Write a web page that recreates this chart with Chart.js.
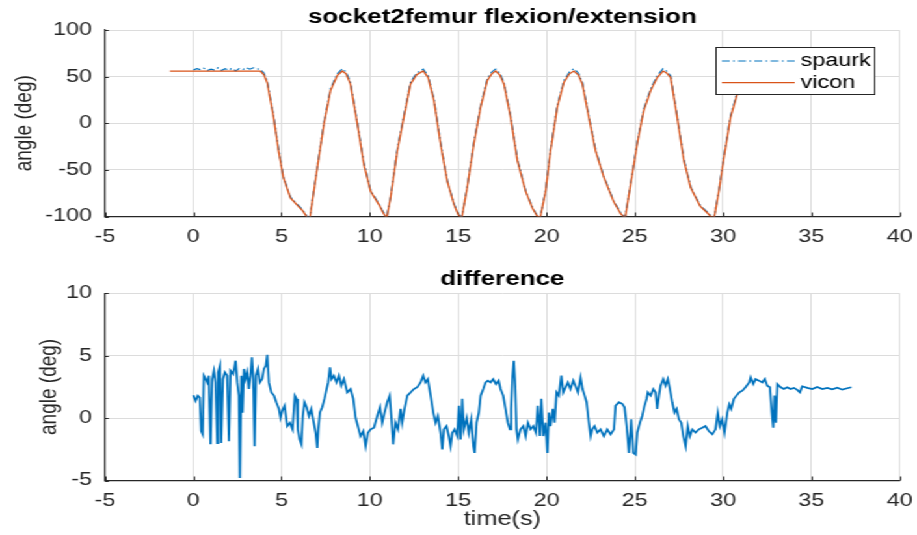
<!DOCTYPE html>
<html>
<head>
<meta charset="utf-8">
<script src="https://cdn.jsdelivr.net/npm/chart.js@4.4.0/dist/chart.umd.min.js"></script>
<style>
    html, body { margin: 0; padding: 0; background: #fff; overflow: hidden; }
    #figure { position: relative; width: 705px; height: 535px; transform: scaleX(1.3007); transform-origin: 0 0; }
    #figure canvas { position: absolute; left: 0; }
    #topChart { top: 0; }
    #diffChart { top: 250px; }
</style>
</head>
<body>
<div id="figure">
    <canvas id="topChart" width="705" height="250"></canvas>
    <canvas id="diffChart" width="705" height="285"></canvas>
</div>
<script>
// Tick values for both subplots
const xTicks = [-5, 0, 5, 10, 15, 20, 25, 30, 35, 40];
const angleTicks = [-100, -50, 0, 50, 100];
const diffTicks = [-5, 0, 5, 10];

// vicon angle (deg) against time (s)
const viconTime = [-1.32, 0, 1, 2, 3, 3.8, 4.0, 4.19, 4.55, 4.83, 5.1, 5.5, 5.9, 6.2, 6.45, 6.6, 6.74, 7.02, 7.4, 7.77,
    8.15, 8.44, 8.65, 8.9, 9.29, 9.66, 10.04, 10.5, 10.75, 10.95, 11.17, 11.55, 11.92, 12.3, 12.65, 13.02, 13.3, 13.63,
    14.0, 14.38, 14.76, 15.0, 15.2, 15.51, 15.89, 16.27, 16.65, 16.9, 17.12, 17.35, 17.59, 17.97, 18.35, 18.82, 19.2,
    19.45, 19.65, 19.95, 20.23, 20.61, 20.99, 21.3, 21.55, 21.8, 22.03, 22.4, 22.78, 23.25, 23.8, 24.2, 24.45, 24.76,
    25.14, 25.5, 25.9, 26.27, 26.6, 26.8, 27.03, 27.4, 27.78, 28.16, 28.7, 29.1, 29.3, 29.5, 29.76, 30.05, 30.42, 30.8,
    31.1, 31.4, 31.7, 32.5, 34, 35.5, 37.2];
const viconAngle = [56, 56, 56, 56, 56, 56, 52, 43, 6, -30, -58, -80, -88, -94, -101, -102, -84, -48, -1, 35,
    51, 56, 53, 42, -1, -44, -73, -87, -96, -102, -80, -30, 6, 42, 52, 56, 49, 24,
    -22, -62, -87, -98, -102, -69, -22, 17, 46, 53, 56, 52, 42, 6, -40, -73, -91,
    -99, -101, -73, -30, 17, 44, 53, 56, 52, 42, 6, -30, -58, -84, -97, -102, -66,
    -22, 13, 35, 49, 56, 54, 49, 6, -40, -69, -89, -96, -100, -101, -73, -37, 6, 31,
    46, 54, 56, 56, 56, 56, 56];

// spaurk angle (deg) against time (s)
const spaurkTime = [0, 0.2, 0.4, 0.6, 0.8, 1.0, 1.2, 1.4, 1.6, 1.8, 2.0, 2.2, 2.4, 2.6, 2.8, 3.0, 3.2, 3.4, 3.6, 3.8,
    4.0, 4.19, 4.55, 4.83, 5.1, 5.5, 5.9, 6.2, 6.45, 6.6, 6.74, 7.02, 7.4, 7.77, 8.15, 8.44, 8.65, 8.9, 9.29, 9.66,
    10.04, 10.5, 10.75, 10.95, 11.17, 11.55, 11.92, 12.3, 12.65, 13.02, 13.3, 13.63, 14.0, 14.38, 14.76, 15.0, 15.2,
    15.51, 15.89, 16.27, 16.65, 16.9, 17.12, 17.35, 17.59, 17.97, 18.35, 18.82, 19.2, 19.45, 19.65, 19.95, 20.23,
    20.61, 20.99, 21.3, 21.55, 21.8, 22.03, 22.4, 22.78, 23.25, 23.8, 24.2, 24.45, 24.76, 25.14, 25.5, 25.9, 26.27,
    26.6, 26.8, 27.03, 27.4, 27.78, 28.16, 28.7, 29.1, 29.3, 29.5, 29.76, 30.05, 30.42, 30.8, 31.1, 31.4, 31.7, 32.5,
    34, 35.5, 37.2];
const spaurkAngle = [57, 58.5, 57.5, 59, 56.5, 58, 57, 59.5, 56.5, 58.5, 57, 59, 56, 58.5, 57.5, 59.5, 58, 59.5, 58.5, 57.5,
    54, 45, 8, -28, -57, -79, -87, -93, -100, -101, -83, -47, 1, 37, 53, 58.5, 55, 44, 1, -42,
    -72, -86, -95, -101, -79, -28, 8, 44, 54, 58, 51, 26, -20, -61, -86, -97, -101,
    -68, -20, 19, 48, 55, 58, 54, 44, 8, -38, -72, -90, -98, -100, -72, -28,
    19, 46, 55, 58.5, 54, 44, 8, -28, -57, -83, -96, -101, -65, -20, 15, 37, 51,
    58.5, 56, 51, 8, -38, -68, -88, -95, -99, -100, -72, -35, 8, 33, 48, 56, 58, 58.5,
    58.5, 58.5, 58.5];

// difference (deg) against time (s)
const diffTime = [0, 0.13, 0.26, 0.37, 0.45, 0.53, 0.6, 0.7, 0.79, 0.88, 0.98, 1.07, 1.17, 1.26, 1.36, 1.41, 1.51, 1.58,
    1.68, 1.79, 1.92, 2.02, 2.11, 2.26, 2.4, 2.49, 2.58, 2.64, 2.72, 2.79, 2.87, 2.96, 3.06, 3.15, 3.24, 3.32, 3.4,
    3.47, 3.55, 3.66, 3.77, 3.9, 4.0, 4.11, 4.19, 4.28, 4.42, 4.57, 4.7, 4.85, 4.94, 5.04, 5.17, 5.32, 5.47, 5.62,
    5.75, 5.85, 5.92, 6.02, 6.12, 6.2, 6.3, 6.42, 6.55, 6.68, 6.8, 6.93, 7.02, 7.08, 7.17, 7.3, 7.43, 7.55, 7.64,
    7.74, 7.83, 7.96, 8.11, 8.25, 8.38, 8.53, 8.72, 8.91, 9.06, 9.19, 9.32, 9.47, 9.63, 9.76, 9.89, 10.04, 10.23,
    10.42, 10.57, 10.7, 10.83, 10.98, 11.12, 11.21, 11.32, 11.45, 11.59, 11.74, 11.83, 11.96, 12.12, 12.3, 12.49,
    12.68, 12.87, 13.02, 13.15, 13.28, 13.44, 13.59, 13.72, 13.85, 14.0, 14.1, 14.19, 14.34, 14.47, 14.57, 14.67,
    14.8, 14.95, 15.04, 15.14, 15.23, 15.32, 15.48, 15.6, 15.74, 15.86, 15.93, 16.04, 16.17, 16.27, 16.42, 16.55,
    16.68, 16.83, 16.98, 17.14, 17.29, 17.4, 17.55, 17.68, 17.81, 17.93, 18.0, 18.08, 18.15, 18.23, 18.3, 18.38,
    18.53, 18.69, 18.82, 18.95, 19.1, 19.25, 19.4, 19.51, 19.63, 19.71, 19.82, 19.95, 20.05, 20.14, 20.23, 20.36,
    20.46, 20.57, 20.7, 20.84, 20.95, 21.08, 21.21, 21.36, 21.52, 21.67, 21.78, 21.93, 22.04, 22.16, 22.27, 22.4,
    22.5, 22.59, 22.72, 22.88, 23.06, 23.25, 23.44, 23.63, 23.82, 23.91, 24.1, 24.29, 24.42, 24.54, 24.67, 24.8,
    24.92, 25.05, 25.14, 25.29, 25.42, 25.55, 25.67, 25.74, 25.9, 26.05, 26.18, 26.27, 26.37, 26.46, 26.61, 26.74,
    26.87, 26.99, 27.12, 27.25, 27.37, 27.5, 27.63, 27.75, 27.88, 28.0, 28.12, 28.26, 28.44, 28.63, 28.82, 29.0,
    29.19, 29.39, 29.57, 29.7, 29.82, 29.95, 30.08, 30.24, 30.35, 30.46, 30.61, 30.76, 30.92, 31.09, 31.27, 31.48,
    31.56, 31.71, 31.84, 32.03, 32.22, 32.36, 32.5, 32.65, 32.76, 32.84, 32.91, 32.99, 33.07, 33.26, 33.44, 33.63,
    33.82, 34.01, 34.2, 34.35, 34.48, 34.77, 35.05, 35.33, 35.62, 35.9, 36.18, 36.47, 36.75, 37.03, 37.26];
const diffValue = [1.84, 1.38, 1.8, 1.65, -1.04, -1.3, 3.4, 3.13, 2.86, 3.4, -2.1, 3.13, 3.8, 2.86, -2.0, 3.67, 4.2, -2.0,
    3.13, 3.67, 3.4, -1.85, 3.8, 3.53, 4.6, 2.86, 1.8, -4.8, 3.4, 0.44, 3.94, 3.13, 3.67, 2.33, 3.4, 4.88, 3.13,
    -2.25, 3.4, 3.94, 2.86, 3.13, 3.94, 4.2, 5.07, 2.86, 2.06, 1.8, 1.27, 0.74, 0.03, 0.6, 1.0, -0.64, -0.37, -0.9,
    1.8, 1.54, -0.9, -1.71, -2.1, 0.17, 1.27, 0.87, 0.17, 0.74, -0.2, -1.17, -2.4, -0.9, 0.44, 0.87, 1.54, 2.33, 2.86,
    4.07, 3.13, 3.4, 2.86, 3.4, 2.6, 3.13, 2.06, 2.33, 1.54, 0.03, -0.64, -1.44, -1.04, -2.25, -1.17, -0.9, -0.77,
    0.17, 0.87, -0.37, 0.44, 1.27, 1.8, 0.17, -2.1, -0.37, -0.9, 0.74, -0.37, 0.74, 1.8, 2.06, 2.33,
    2.47, 2.86, 3.4, 2.86, 3.13, 1.8, 0.44, -0.37, 0.17, -1.17, -2.52, -0.9, -0.64, -1.44, -2.25, -1.17,
    -0.9, -1.44, 0.98, -1.71, 1.54, -0.9, 0.03, -1.17, -0.1, -2.25, -2.79, -0.37, 0.44, 1.8, 2.33, 2.86,
    3.0, 2.86, 3.13, 2.73, 3.0, 2.33, 1.8, 0.74, -0.37, -0.9, 0.74, 3.4, 4.6, 2.6, -0.9, -1.71,
    -0.9, -0.64, -1.44, -0.37, -0.9, -0.64, -1.17, 0.98, -1.44, 1.54, -1.44, -0.37, -2.79, 0.44, -0.64, 0.74,
    -0.37, 2.06, 1.8, 3.4, 2.06, 2.47, 2.86, 2.33, 3.0, 2.47, 2.06, 3.26, 2.33, 1.8, 1.27, -0.37,
    -1.44, -0.9, -0.64, -1.17, -0.9, -1.44, -0.9, -1.3, -0.9, 0.98, 1.27, 1.14, 0.87, -0.64, -2.79, -0.1,
    -2.79, -2.93, -1.17, -0.37, 0.17, 0.98, 1.54, 2.06, 1.8, 2.33, 2.06, 0.74, 1.8, 2.6, 3.13, 2.6,
    3.13, 2.33, 1.27, 0.44, 0.74, -0.1, -0.37, -1.44, -2.25, -0.64, -1.44, -0.9, -1.17, -0.9, -0.77, -0.64,
    -1.04, -1.3, -0.9, 0.44, -0.64, -0.1, -1.17, 0.44, 1.1, 0.74, 1.54, 1.8, 2.06, 2.2, 2.47, 2.86,
    3.26, 2.73, 3.13, 3.0, 2.86, 3.13, 2.6, 2.47, 0.44, -0.77, 1.8, -0.37, 2.73, 2.47, 2.33, 2.47,
    2.33, 2.42, 2.26, 2.06, 2.55, 2.42, 2.33, 2.5, 2.33, 2.42, 2.31, 2.44, 2.28, 2.39, 2.47];

const FONT = '"Liberation Sans", Arial, Helvetica, sans-serif';
const AXIS_GREY = '#262626';
const GRID_GREY = '#dcdcdc';
const BLUE = '#0072BD';
const ORANGE = '#D95319';

Chart.defaults.font.family = FONT;
Chart.defaults.color = AXIS_GREY;

// Pair two lists into {x, y} points
function toPoints(xs, ys) {
    return xs.map((x, i) => ({ x: x, y: ys[i] }));
}

// Small inward tick marks like MATLAB axes
const innerTicks = {
    id: 'innerTicks',
    beforeDatasetsDraw(chart) {
        const { ctx, chartArea: a, scales: { x, y } } = chart;
        ctx.save();
        ctx.strokeStyle = AXIS_GREY;
        ctx.lineWidth = 1;
        ctx.beginPath();
        x.ticks.forEach(t => {
            const px = Math.round(x.getPixelForValue(t.value)) + 0.5;
            ctx.moveTo(px, a.bottom);
            ctx.lineTo(px, a.bottom - 4);
        });
        y.ticks.forEach(t => {
            const py = Math.round(y.getPixelForValue(t.value)) + 0.5;
            ctx.moveTo(a.left, py);
            ctx.lineTo(a.left + 3, py);
        });
        ctx.stroke();
        ctx.restore();
    }
};

// Boxed legend drawn over the lines, inside the plot
const boxLegend = {
    id: 'boxLegend',
    afterDatasetsDraw(chart, args, opts) {
        if (!opts.show) return;
        const ctx = chart.ctx;
        ctx.save();
        ctx.fillStyle = '#fff';
        ctx.fillRect(opts.left, opts.top, opts.width, opts.height);
        ctx.strokeStyle = AXIS_GREY;
        ctx.lineWidth = 1;
        ctx.strokeRect(opts.left, opts.top, opts.width, opts.height);
        chart.data.datasets.forEach((ds, i) => {
            const yy = opts.top + opts.rowTop + i * opts.rowGap;
            ctx.strokeStyle = ds.borderColor;
            ctx.lineWidth = ds.borderWidth;
            ctx.setLineDash(ds.borderDash || []);
            ctx.beginPath();
            ctx.moveTo(opts.left + 4.5, yy);
            ctx.lineTo(opts.left + 60.5, yy);
            ctx.stroke();
            ctx.setLineDash([]);
            ctx.fillStyle = '#000';
            ctx.font = '18px ' + FONT;
            ctx.textBaseline = 'middle';
            ctx.fillText(ds.label, opts.left + 65, yy);
        });
        ctx.restore();
    }
};

// Shared axis setup
function xScale(showTitle, height) {
    return {
        type: 'linear',
        min: xTicks[0],
        max: xTicks[xTicks.length - 1],
        afterBuildTicks: s => { s.ticks = xTicks.map(v => ({ value: v })); },
        ticks: { padding: 10, maxRotation: 0, autoSkip: false, color: AXIS_GREY, font: { size: 18 } },
        grid: { color: GRID_GREY, lineWidth: 1, drawTicks: false },
        border: { color: AXIS_GREY, width: 1.2 },
        title: { display: showTitle, text: 'time(s)', color: AXIS_GREY, font: { size: 19.5 }, padding: { top: 0, bottom: 3.5 } },
        afterFit: s => {
            s.height = height;
            s.paddingLeft = 0;
            s.paddingRight = 0;
        }
    };
}

function yScale(ticks, titlePad) {
    return {
        type: 'linear',
        min: ticks[0],
        max: ticks[ticks.length - 1],
        afterBuildTicks: s => { s.ticks = ticks.map(v => ({ value: v })); },
        ticks: { padding: 10, color: AXIS_GREY, font: { size: 18 } },
        grid: { color: GRID_GREY, lineWidth: 1, drawTicks: false },
        border: { color: AXIS_GREY, width: 1.2 },
        title: { display: true, text: 'angle (deg)', color: AXIS_GREY, font: { size: 19 }, padding: { top: titlePad, bottom: 0 } },
        afterFit: s => {
            s.width = 80.7;
            s.paddingTop = 0;
            s.paddingBottom = 0;
        }
    };
}

function titleOpts(text, top, bottom) {
    return {
        display: true,
        text: text,
        fullSize: false,
        color: '#000',
        font: { size: 20, weight: 'bold' },
        padding: { top: top, bottom: bottom }
    };
}

// Upper subplot: spaurk vs vicon
new Chart(document.getElementById('topChart'), {
    type: 'line',
    data: {
        datasets: [{
            label: 'spaurk',
            data: toPoints(spaurkTime, spaurkAngle),
            borderColor: BLUE,
            borderWidth: 1.1,
            borderDash: [6, 2.5, 1.5, 2.5],
            pointRadius: 0,
            tension: 0,
            order: 1
        }, {
            label: 'vicon',
            data: toPoints(viconTime, viconAngle),
            borderColor: ORANGE,
            borderWidth: 1.3,
            pointRadius: 0,
            tension: 0,
            order: 0
        }]
    },
    options: {
        responsive: false,
        animation: false,
        events: [],
        layout: { padding: { left: 0, right: 13.3, top: 0, bottom: 0 } },
        plugins: {
            legend: { display: false },
            tooltip: { enabled: false },
            title: titleOpts('socket2femur flexion/extension', 5, 1),
            boxLegend: { show: true, left: 550.5, top: 47.5, width: 122, height: 47, rowTop: 13.5, rowGap: 21.7 }
        },
        scales: {
            x: xScale(false, 33.5),
            y: yScale(angleTicks, 7.8)
        }
    },
    plugins: [innerTicks, boxLegend]
});

// Lower subplot: difference
new Chart(document.getElementById('diffChart'), {
    type: 'line',
    data: {
        datasets: [{
            label: 'difference',
            data: toPoints(diffTime, diffValue),
            borderColor: BLUE,
            borderWidth: 1.7,
            pointRadius: 0,
            tension: 0
        }]
    },
    options: {
        responsive: false,
        animation: false,
        events: [],
        layout: { padding: { left: 0, right: 13.3, top: 0, bottom: 0 } },
        plugins: {
            legend: { display: false },
            tooltip: { enabled: false },
            title: titleOpts('difference', 17, 2.3)
        },
        scales: {
            x: xScale(true, 54.5),
            y: yScale(diffTicks, 26)
        }
    },
    plugins: [innerTicks]
});
</script>
</body>
</html>
